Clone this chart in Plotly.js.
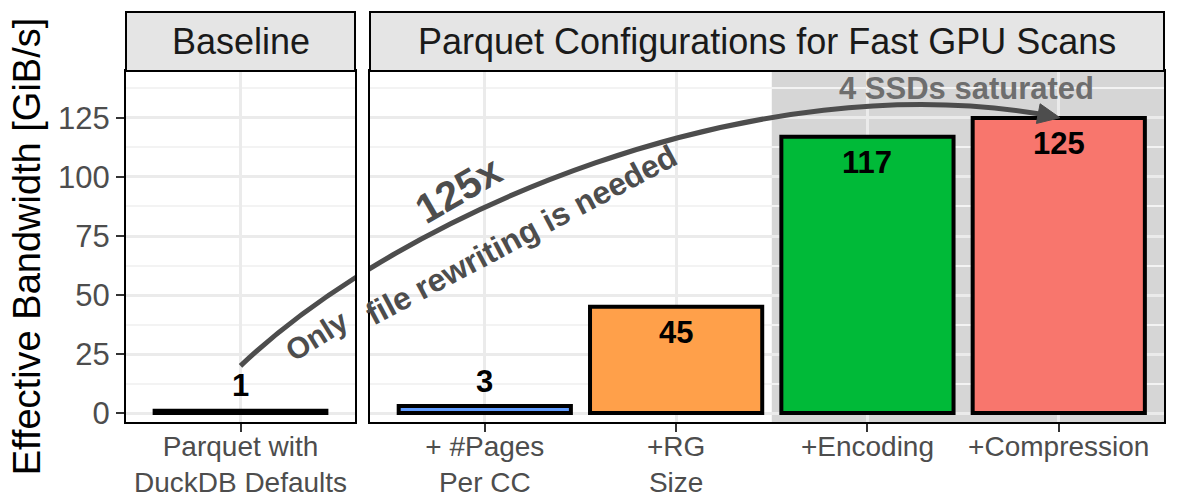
<!DOCTYPE html>
<html>
<head>
<meta charset="utf-8">
<script src="https://cdn.plot.ly/plotly-3.0.1.min.js"></script>
<style>
  html, body { margin: 0; padding: 0; background: #fff; }
  #chart { width: 1182px; height: 499px; }
</style>
</head>
<body>
<div id="chart"></div>
<script>
  // data
  var baseCats = ['Parquet with<br>DuckDB Defaults'];
  var baseVals = [1];
  var configCats = ['+ #Pages<br>Per CC', '+RG<br>Size', '+Encoding', '+Compression'];
  var configVals = [3, 45, 117, 125];
  var stripLabels = ['Baseline', 'Parquet Configurations for Fast GPU Scans'];

  var config = { displayModeBar: false, staticPlot: true };

  var FONT = 'Liberation Sans, Arial, Helvetica, sans-serif';
  var W = 1182, H = 499;
  var M = { l: 126, r: 18, t: 71, b: 77 };
  var plotW = W - M.l - M.r;
  var plotH = H - M.t - M.b;
  var dom1 = [0, 229 / plotW];
  var dom2 = [244 / plotW, 1];
  var rng1 = [-0.6, 0.6];
  var rng2 = [-0.6, 3.55];
  var yRng = [-3.8, 144.9];

  var barColors = ['#619CFF', '#FFA04A', '#00BA38', '#F8766D'];
  var gridMajor = '#ebebeb';
  var arrowCol = '#4d4d4d';

  // pixel <-> data helpers, used for the curved arrow
  function xToPx(v, dom, rng) {
    return M.l + plotW * (dom[0] + (v - rng[0]) / (rng[1] - rng[0]) * (dom[1] - dom[0]));
  }
  function pxToX(p, dom, rng) {
    var f = ((p - M.l) / plotW - dom[0]) / (dom[1] - dom[0]);
    return rng[0] + f * (rng[1] - rng[0]);
  }
  function yToPx(v) {
    return M.t + plotH * (1 - (v - yRng[0]) / (yRng[1] - yRng[0]));
  }
  function pxToY(p) {
    return yRng[0] + (1 - (p - M.t) / plotH) * (yRng[1] - yRng[0]);
  }

  var baseTrace = {
    type: 'bar',
    x: baseCats,
    y: baseVals,
    xaxis: 'x',
    yaxis: 'y',
    width: 0.9,
    marker: { color: '#000000', line: { color: '#000000', width: 4 } },
    hoverinfo: 'skip'
  };
  var configTrace = {
    type: 'bar',
    x: configCats,
    y: configVals,
    xaxis: 'x2',
    yaxis: 'y2',
    width: 0.9,
    marker: { color: barColors, line: { color: '#000000', width: 4 } },
    hoverinfo: 'skip'
  };

  // curved "125x" arrow, from the baseline bar to the last bar
  var p0 = { x: xToPx(0, dom1, rng1), y: yToPx(20) };
  var p3 = { x: xToPx(2.98, dom2, rng2), y: yToPx(125.5) };
  var c1 = { x: p0.x + 160, y: p0.y - 152 };
  var c2 = { x: p3.x - 300, y: p3.y - 57 };

  function curvePath(dom, rng) {
    var pts = [p0, c1, c2, p3].map(function(p) {
      return pxToX(p.x, dom, rng).toFixed(4) + ',' + pxToY(p.y).toFixed(3);
    });
    return 'M' + pts[0] + ' C' + pts[1] + ' ' + pts[2] + ' ' + pts[3];
  }

  var dlen = Math.sqrt(300 * 300 + 57 * 57);
  var d = { x: 300 / dlen, y: 57 / dlen };
  var n = { x: -d.y, y: d.x };
  var tip = { x: p3.x + 5 * d.x, y: p3.y + 5 * d.y };
  var back = { x: tip.x - 22 * d.x, y: tip.y - 22 * d.y };
  var head = [tip,
    { x: back.x + 10 * n.x, y: back.y + 10 * n.y },
    { x: back.x - 10 * n.x, y: back.y - 10 * n.y }];
  var headPath = 'M' + head.map(function(p) {
    return pxToX(p.x, dom2, rng2).toFixed(4) + ',' + pxToY(p.y).toFixed(3);
  }).join(' L') + ' Z';

  var stripTop = 1 + 59 / plotH;

  var shapes = [
    // "4 SSDs saturated" shading
    { type: 'rect', xref: 'x2', yref: 'y2 domain', x0: 1.5, x1: 3.55, y0: 0, y1: 1,
      fillcolor: '#d6d6d6', line: { width: 0 }, layer: 'below' },
    // facet strips
    { type: 'rect', xref: 'paper', yref: 'paper', x0: dom1[0], x1: dom1[1], y0: 1, y1: stripTop,
      fillcolor: '#e5e5e5', line: { color: '#000', width: 2 } },
    { type: 'rect', xref: 'paper', yref: 'paper', x0: dom2[0], x1: dom2[1], y0: 1, y1: stripTop,
      fillcolor: '#e5e5e5', line: { color: '#000', width: 2 } },
    // arrow, clipped per panel
    { type: 'path', xref: 'x', yref: 'y', path: curvePath(dom1, rng1),
      line: { color: arrowCol, width: 5 } },
    { type: 'path', xref: 'x2', yref: 'y2', path: curvePath(dom2, rng2),
      line: { color: arrowCol, width: 5 } },
    { type: 'path', xref: 'x2', yref: 'y2', path: headPath,
      fillcolor: arrowCol, line: { color: arrowCol, width: 1 } }
  ];

  function labelY(v) { return v < 20 ? v + 10.5 : v - 11; }

  var annotations = [];
  baseCats.forEach(function(c, i) {
    annotations.push({ xref: 'x', yref: 'y', x: c, y: labelY(baseVals[i]),
      text: '<b>' + baseVals[i] + '</b>', showarrow: false,
      font: { family: FONT, size: 31, color: '#000' } });
  });
  configCats.forEach(function(c, i) {
    annotations.push({ xref: 'x2', yref: 'y2', x: c, y: labelY(configVals[i]),
      text: '<b>' + configVals[i] + '</b>', showarrow: false,
      font: { family: FONT, size: 31, color: '#000' } });
  });

  // strip labels
  annotations.push({ xref: 'paper', yref: 'paper', x: (dom1[0] + dom1[1]) / 2, y: (1 + stripTop) / 2,
    xanchor: 'center', yanchor: 'middle',
    text: stripLabels[0], showarrow: false, font: { family: FONT, size: 36, color: '#1a1a1a' } });
  annotations.push({ xref: 'paper', yref: 'paper', x: (dom2[0] + dom2[1]) / 2, y: (1 + stripTop) / 2,
    xanchor: 'center', yanchor: 'middle',
    text: stripLabels[1], showarrow: false, font: { family: FONT, size: 36, color: '#1a1a1a' } });

  // arrow texts
  annotations.push({ xref: 'x2', yref: 'y', x: 2.52, y: 137.5, text: '<b>4 SSDs saturated</b>',
    showarrow: false, font: { family: FONT, size: 31, color: '#6e6e6e' } });
  annotations.push({ xref: 'x2', yref: 'y', x: -0.14, y: 94.5, text: '<b>125x</b>', textangle: -30,
    showarrow: false, font: { family: FONT, size: 41, color: arrowCol } });
  annotations.push({ xref: 'x', yref: 'y', x: 0.40, y: 33, text: '<b>Only</b>', textangle: -32,
    showarrow: false, font: { family: FONT, size: 30, color: arrowCol } });
  annotations.push({ xref: 'x2', yref: 'y', x: 0.19, y: 75.4, text: '<b>file rewriting is needed</b>',
    textangle: -28, showarrow: false, font: { family: FONT, size: 32, color: arrowCol } });

  var xCommon = {
    type: 'category',
    showgrid: true, gridcolor: gridMajor, gridwidth: 3,
    ticks: 'outside', ticklen: 8, tickwidth: 2, tickcolor: '#333',
    ticklabelstandoff: -10,
    tickfont: { family: FONT, size: 28, color: '#4d4d4d' },
    showline: true, mirror: true, linecolor: '#000', linewidth: 2,
    zeroline: false, fixedrange: true, automargin: false
  };
  var yCommon = {
    range: yRng, tick0: 0, dtick: 25,
    showgrid: true, gridcolor: gridMajor, gridwidth: 3,
    minor: { dtick: 12.5, showgrid: true, gridcolor: '#f3f3f3', gridwidth: 2 },
    showline: true, mirror: true, linecolor: '#000', linewidth: 2,
    zeroline: false, fixedrange: true, automargin: false
  };

  var layout = {
    width: W,
    height: H,
    margin: M,
    paper_bgcolor: '#ffffff',
    plot_bgcolor: '#ffffff',
    showlegend: false,
    font: { family: FONT },
    xaxis: Object.assign({}, xCommon, { domain: dom1, range: rng1, anchor: 'y' }),
    xaxis2: Object.assign({}, xCommon, { domain: dom2, range: rng2, anchor: 'y2' }),
    yaxis: Object.assign({}, yCommon, {
      anchor: 'x',
      ticks: 'outside', ticklen: 8, tickwidth: 2, tickcolor: '#333',
      tickfont: { family: FONT, size: 31, color: '#4d4d4d' },
      title: { text: 'Effective Bandwidth [GiB/s]', font: { family: FONT, size: 38, color: '#000' }, standoff: 6 }
    }),
    yaxis2: Object.assign({}, yCommon, { anchor: 'x2', matches: 'y', showticklabels: false, ticks: '' }),
    shapes: shapes,
    annotations: annotations
  };

  Plotly.newPlot('chart', [baseTrace, configTrace], layout, config);
</script>
</body>
</html>
